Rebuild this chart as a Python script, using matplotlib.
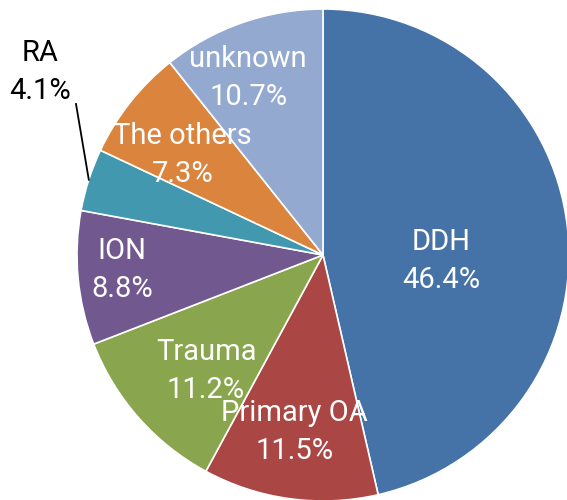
import numpy as np
import matplotlib
matplotlib.use("Agg")
import matplotlib.pyplot as plt

categories = ["DDH", "Primary OA", "Trauma", "ION", "RA", "The others", "unknown"]
values = [46.4, 11.5, 11.2, 8.8, 4.1, 7.3, 10.7]

colors = ["#4572A7", "#AA4643", "#89A54E", "#71588F", "#4198AF", "#DB843D", "#93A9CF"]
label_r = [0.48, 0.73, 0.67, 0.82, None, 0.70, 0.78]
angle_off = [-9.5, -1.5, 3.4, -1.1, 0, 2.9, 3.7]

plt.rcParams['font.family'] = ['Roboto', 'DejaVu Sans']

fig = plt.figure(figsize=(5.67, 5.0), dpi=100)
ax = fig.add_axes([77/567, -1/500, 492/567, 492/500])
wedges, _ = ax.pie(values, colors=colors, startangle=90, counterclock=False,
                   wedgeprops=dict(edgecolor="white", linewidth=1.2))
ax.set_xlim(-1, 1)
ax.set_ylim(-1, 1)
ax.set_aspect("equal")

for i, (w, cat, v) in enumerate(zip(wedges, categories, values)):
    mid = (w.theta1 + w.theta2) / 2.0
    txt = f"{cat}\n{v:.1f}%"
    if label_r[i] is None:
        px, py = np.cos(np.radians(mid)), np.sin(np.radians(mid))
        tx, ty = -283/246, 183/246
        ax.plot([px, -247/246], [py, 151/246], color="black", lw=1.3, clip_on=False)
        ax.text(tx, ty, txt, ha="center", va="center", fontsize=21, color="black",
                fontweight="normal", linespacing=1.45)
    else:
        a = np.radians(mid + angle_off[i])
        ax.text(label_r[i]*np.cos(a), label_r[i]*np.sin(a), txt, ha="center", va="center",
                fontsize=21, color="white", fontweight="normal", linespacing=1.45)

fig.savefig("out.png", dpi=100)
